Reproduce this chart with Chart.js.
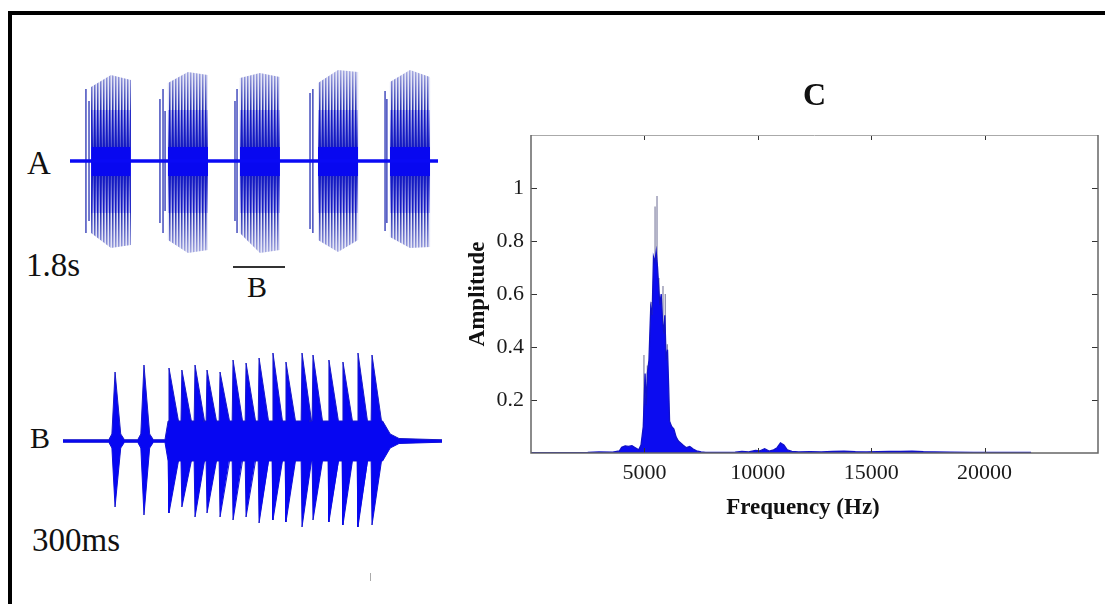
<!DOCTYPE html>
<html><head><meta charset="utf-8">
<script src="https://cdn.jsdelivr.net/npm/chart.js@4.4.1/dist/chart.umd.min.js"></script>
<style>
html,body{margin:0;padding:0;background:#fff;}
#root{position:relative;width:1105px;height:604px;overflow:hidden;background:#fff;font-family:"Liberation Serif","Times New Roman",serif;}
.lbl{position:absolute;line-height:1;color:#111;white-space:nowrap;}
.bar{position:absolute;background:#000;}
canvas{position:absolute;}
</style></head><body>
<div id="root">
  <div class="bar" style="left:8px;top:11px;width:1097px;height:4px;"></div>
  <div class="bar" style="left:8px;top:11px;width:4px;height:593px;"></div>
  <div class="lbl" style="left:27px;top:147px;font-size:33px;">A</div>
  <div class="lbl" style="left:26px;top:249px;font-size:33px;">1.8s</div>
  <div style="position:absolute;left:233px;top:266px;width:52px;height:2px;background:#333;"></div>
  <div class="lbl" style="left:247px;top:272px;font-size:30px;">B</div>
  <div class="lbl" style="left:30px;top:423px;font-size:30px;">B</div>
  <div class="lbl" style="left:32px;top:524px;font-size:33px;">300ms</div>
  <div style="position:absolute;left:370px;top:573px;width:1px;height:8px;background:#aaa;"></div>
  <canvas id="cA" width="368" height="220" style="left:70px;top:51px;"></canvas>
  <canvas id="cB" width="379" height="220" style="left:63px;top:331px;"></canvas>
  <canvas id="cC" width="645" height="480" style="left:460px;top:60px;"></canvas>
</div>
<script>
// ---------- Panel A : 1.8 s recording, 5 bursts (time s, normalized amplitude) ----------
const aDuration = 1.8;
const aPreSpikeTime = [0.078, 0.093, 0.440, 0.455, 0.465, 0.807, 0.817, 1.174, 1.188, 1.541, 1.550];
const aPreSpikeAmp  = [0.72, 0.60, 0.62, 0.72, 0.50, 0.60, 0.72, 0.68, 0.72, 0.70, 0.62];
const aBurstStart  = [0.103, 0.479, 0.831, 1.213, 1.565];
const aBurstEnd    = [0.298, 0.675, 1.027, 1.409, 1.761];
// envelope of each burst at its start, middle and end
const aTopStart = [0.74, 0.78, 0.83, 0.78, 0.79];
const aTopMid   = [0.86, 0.89, 0.88, 0.91, 0.91];
const aTopEnd   = [0.81, 0.86, 0.84, 0.89, 0.84];
const aBotStart = [-0.72, -0.79, -0.72, -0.79, -0.76];
const aBotMid   = [-0.87, -0.92, -0.92, -0.91, -0.87];
const aBotEnd   = [-0.84, -0.89, -0.89, -0.79, -0.86];

// ---------- Panel B : 300 ms excerpt, pulse train (time ms, normalized amplitude) ----------
const bDuration = 300;
const bPulseTime   = [41.2, 64.1, 83.9, 94.1, 104.5, 114.0, 124.3, 134.6, 144.9, 155.2, 166.2, 176.5, 189.2, 197.9, 210.5, 221.6, 233.5, 244.6];
const bPulseTop    = [0.69, 0.76, 0.73, 0.71, 0.76, 0.71, 0.69, 0.81, 0.78, 0.83, 0.88, 0.79, 0.88, 0.86, 0.81, 0.79, 0.88, 0.86];
const bPulseBottom = [-0.66, -0.74, -0.72, -0.66, -0.76, -0.72, -0.76, -0.79, -0.76, -0.82, -0.79, -0.81, -0.86, -0.79, -0.81, -0.84, -0.86, -0.84];
const bPulseFloor  = [0.07, 0.07, 0.20, 0.20, 0.20, 0.20, 0.20, 0.20, 0.20, 0.20, 0.20, 0.20, 0.20, 0.20, 0.20, 0.20, 0.20, 0.20];
const bTailTime = [253, 259, 266];
const bTailAmp  = [0.20, 0.07, 0.025];
const bNoise = 0.012;

// ---------- Panel C : amplitude spectrum ----------
const specHz  = [0,2500,3000,3600,3900,4000,4150,4300,4450,4600,4750,4850,4950,5030,5080,5130,5200,5280,5340,5400,5460,5520,5580,5620,5680,5740,5800,5860,5900,5960,6020,6070,6110,6200,6300,6400,6500,6700,6850,7000,7150,7300,7500,7700,8500,9000,9300,9600,9900,10100,10300,10500,10700,10850,11000,11150,11300,11500,11800,12300,12800,13300,13800,14300,14800,15300,15800,16300,16800,17300,17800,18500,19500,20500,21500,22050];
const specAmp = [0.001,0.002,0.004,0.003,0.008,0.022,0.027,0.025,0.028,0.02,0.012,0.03,0.1,0.3,0.18,0.3,0.35,0.55,0.52,0.74,0.72,0.76,0.7,0.64,0.56,0.6,0.5,0.45,0.52,0.35,0.39,0.25,0.12,0.1,0.09,0.06,0.045,0.03,0.02,0.025,0.015,0.008,0.004,0.002,0.002,0.003,0.006,0.004,0.01,0.008,0.016,0.007,0.012,0.02,0.038,0.03,0.012,0.006,0.004,0.005,0.004,0.006,0.007,0.005,0.004,0.005,0.006,0.006,0.007,0.005,0.004,0.003,0.002,0.002,0.002,0.002];
const spikeHz  = [4980, 5130, 5300, 5470, 5556, 5640, 5820, 5920, 6010];
const spikeAmp = [0.37, 0.33, 0.57, 0.93, 0.97, 0.66, 0.63, 0.60, 0.41];
const xTickVals = [5000, 10000, 15000, 20000];
const xTickLabels = ['5000', '10000', '15000', '20000'];
const yTickVals = [0.2, 0.4, 0.6, 0.8, 1];
const yTickLabels = ['0.2', '0.4', '0.6', '0.8', '1'];
const xLabel = 'Frequency (Hz)';
const yLabel = 'Amplitude';
const panelTitle = 'C';

const SERIF = '"Liberation Serif", "Times New Roman", serif';
Chart.defaults.font.family = SERIF;

// ---------- helpers ----------
function hiddenScales(xmax, ymin, ymax) {
  return {
    x: {type: 'linear', min: 0, max: xmax, display: false},
    y: {type: 'linear', min: ymin, max: ymax, display: false}
  };
}
function burstEnvelope(st, mid, en) {
  const pts = [{x: 0, y: 0}];
  aBurstStart.forEach((s, i) => {
    const e = aBurstEnd[i];
    pts.push({x: s, y: 0}, {x: s, y: st[i]}, {x: (s + e) / 2, y: mid[i]}, {x: e, y: en[i]}, {x: e, y: 0});
  });
  pts.push({x: aDuration, y: 0});
  return pts;
}
// stripe texture whose density depends on the distance from the baseline (canvas-aligned)
function stripePattern(h, ampRange) {
  const c = document.createElement('canvas');
  c.width = 3; c.height = h;
  const g = c.getContext('2d');
  for (let y = 0; y < h; y++) {
    const amp = Math.abs((h / 2 - y) / (h / 2) * ampRange);
    let a0, a1, a2, col;
    if (amp < 0.14) { col = '8,8,240'; a0 = a1 = a2 = 1; }
    else if (amp < 0.52) { const t = (amp - 0.14) / 0.38; col = '20,26,195'; a0 = 1; a1 = 1 - 0.35 * t; a2 = 0.8 - 0.5 * t; }
    else { const f = Math.max(0.3, 1 - (amp - 0.52) * 1.5); col = '38,48,180'; a0 = f; a1 = 0.6 * f; a2 = 0.12; }
    g.fillStyle = `rgba(${col},${a0})`; g.fillRect(0, y, 1, 1);
    g.fillStyle = `rgba(${col},${a1})`; g.fillRect(1, y, 1, 1);
    g.fillStyle = `rgba(${col},${a2})`; g.fillRect(2, y, 1, 1);
  }
  return g.createPattern(c, 'repeat');
}

// ---------- Chart A ----------
const ctxA = document.getElementById('cA').getContext('2d');
const preSpikes = [];
aPreSpikeTime.forEach((t, i) => {
  preSpikes.push({x: t, y: -aPreSpikeAmp[i]}, {x: t, y: aPreSpikeAmp[i]}, {x: t, y: null});
});
const base = {pointRadius: 0, tension: 0, clip: false, borderWidth: 0};
new Chart(ctxA, {
  type: 'line',
  data: {datasets: [
    Object.assign({}, base, {data: [{x: 0, y: 0}, {x: aDuration, y: 0}], borderColor: '#0a0af5', borderWidth: 3.5, fill: false}),
    Object.assign({}, base, {data: preSpikes, borderColor: 'rgb(40,50,180)', borderWidth: 1.3, spanGaps: false, fill: false}),
    Object.assign({}, base, {data: burstEnvelope(aTopStart, aTopMid, aTopEnd), fill: '+1', backgroundColor: stripePattern(220, 1.1)}),
    Object.assign({}, base, {data: burstEnvelope(aBotStart, aBotMid, aBotEnd), fill: false})
  ]},
  options: {responsive: false, animation: false, events: [],
    layout: {padding: 0},
    plugins: {legend: {display: false}, tooltip: {enabled: false}},
    scales: hiddenScales(aDuration, -1.1, 1.1)}
});

// ---------- Chart B ----------
function pulseEnvelope(sign) {
  const vals = sign > 0 ? bPulseTop : bPulseBottom;
  const pts = [{x: 0, y: sign * bNoise}];
  bPulseTime.forEach((t, i) => {
    const train = bPulseFloor[i] > 0.1;
    const att = train ? 0.7 : 2.5, dec = train ? 7.5 : 4.5;
    const prevFloor = i > 0 && bPulseFloor[i - 1] > 0.1 ? bPulseFloor[i] : bNoise;
    pts.push({x: t - att - 2.5, y: sign * prevFloor});
    pts.push({x: t - att, y: sign * bPulseFloor[i]});
    pts.push({x: t, y: vals[i]});
    pts.push({x: t + dec, y: sign * bPulseFloor[i]});
    if (!train) pts.push({x: t + dec + 3, y: sign * bNoise});
  });
  bTailTime.forEach((t, i) => pts.push({x: t, y: sign * bTailAmp[i]}));
  pts.push({x: bDuration, y: sign * bNoise});
  return pts;
}
new Chart(document.getElementById('cB').getContext('2d'), {
  type: 'line',
  data: {datasets: [
    Object.assign({}, base, {data: pulseEnvelope(1), fill: '+1', backgroundColor: '#0606f2', borderColor: 'rgb(25,25,200)', borderWidth: 1}),
    Object.assign({}, base, {data: pulseEnvelope(-1), fill: false, borderColor: 'rgb(25,25,200)', borderWidth: 1}),
    Object.assign({}, base, {data: [{x: 0, y: 0}, {x: bDuration, y: 0}], borderColor: '#0a0af0', borderWidth: 2.5, fill: false})
  ]},
  options: {responsive: false, animation: false, events: [],
    layout: {padding: 0},
    plugins: {legend: {display: false}, tooltip: {enabled: false}},
    scales: hiddenScales(bDuration, -1.1, 1.1)}
});

// ---------- Chart C ----------
const boxPlugin = {
  id: 'box',
  afterDraw(chart) {
    const {ctx, chartArea: a, scales} = chart;
    ctx.save();
    ctx.lineWidth = 1;
    ctx.strokeStyle = '#333';
    xTickVals.forEach(v => {
      const px = Math.round(scales.x.getPixelForValue(v)) + 0.5;
      ctx.beginPath(); ctx.moveTo(px, a.bottom); ctx.lineTo(px, a.bottom - 5);
      ctx.moveTo(px, a.top); ctx.lineTo(px, a.top + 5); ctx.stroke();
    });
    yTickVals.forEach(v => {
      const py = Math.round(scales.y.getPixelForValue(v)) + 0.5;
      ctx.beginPath(); ctx.moveTo(a.left, py); ctx.lineTo(a.left + 6, py);
      ctx.moveTo(a.right, py); ctx.lineTo(a.right - 6, py); ctx.stroke();
    });
    ctx.strokeStyle = '#aaa'; ctx.lineWidth = 1;
    ctx.beginPath(); ctx.moveTo(a.left, a.top + 0.5); ctx.lineTo(a.right, a.top + 0.5); ctx.stroke();
    ctx.strokeStyle = '#666'; ctx.lineWidth = 1.5;
    ctx.beginPath();
    ctx.moveTo(a.left, a.top); ctx.lineTo(a.left, a.bottom); ctx.lineTo(a.right, a.bottom); ctx.lineTo(a.right, a.top);
    ctx.stroke();
    ctx.restore();
  }
};
const spikes = [];
spikeHz.forEach((h, i) => spikes.push({x: h, y: 0}, {x: h, y: spikeAmp[i]}, {x: h, y: null}));
const tickFont = {family: SERIF, size: 22};
const titleFont = {family: SERIF, size: 23, weight: 'bold'};
new Chart(document.getElementById('cC').getContext('2d'), {
  type: 'line',
  data: {datasets: [
    {data: specHz.map((h, i) => ({x: h, y: specAmp[i]})), borderColor: '#1212c8', borderWidth: 1.3,
     backgroundColor: '#0c0cf0', fill: 'origin', pointRadius: 0, tension: 0},
    {data: spikes, borderColor: 'rgba(125,125,160,0.95)', borderWidth: 1.2, pointRadius: 0, fill: false, spanGaps: false}
  ]},
  options: {responsive: false, animation: false, events: [],
    layout: {padding: {left: 0, right: 7, top: 0, bottom: 0}},
    plugins: {legend: {display: false}, tooltip: {enabled: false}},
    scales: {
      x: {type: 'linear', min: 0, max: 25000, position: 'bottom',
        afterBuildTicks: s => { s.ticks = xTickVals.map(v => ({value: v})); },
        ticks: {callback: (v, i) => xTickLabels[i], font: tickFont, color: '#1a1a1a', padding: 7, maxRotation: 0, autoSkip: false},
        grid: {display: false, drawTicks: false}, border: {display: false},
        title: {display: true, text: xLabel + '\u00a0\u00a0\u00a0\u00a0', font: titleFont, color: '#111', padding: {top: 0, bottom: 18}},
        afterFit: s => { s.height = 87; }},
      x2: {type: 'linear', min: 0, max: 25000, position: 'top',
        ticks: {display: false}, grid: {display: false, drawTicks: false}, border: {display: false},
        title: {display: true, text: panelTitle, font: {family: SERIF, size: 32, weight: 'bold'}, color: '#111', padding: {top: 18, bottom: 0}},
        afterFit: s => { s.height = 75; }},
      y: {type: 'linear', min: 0, max: 1.2,
        afterBuildTicks: s => { s.ticks = yTickVals.map(v => ({value: v})); },
        ticks: {callback: (v, i) => yTickLabels[i], font: tickFont, color: '#1a1a1a', padding: 7},
        grid: {display: false, drawTicks: false}, border: {display: false},
        title: {display: true, text: yLabel, font: titleFont, color: '#111', padding: {top: 4, bottom: 0}},
        afterFit: s => { s.width = 71; }}
    }},
  plugins: [boxPlugin]
});
</script>
</body></html>
